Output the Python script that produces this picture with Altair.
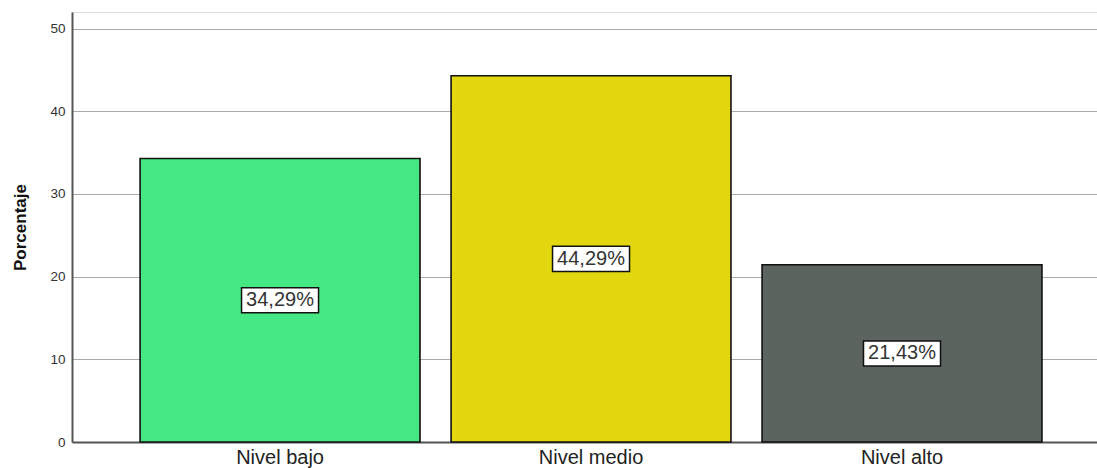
import altair as alt
import pandas as pd

categories = ["Nivel bajo", "Nivel medio", "Nivel alto"]
values = [34.29, 44.29, 21.43]
labels = ["34,29%", "44,29%", "21,43%"]
colors = ["#45E882", "#E3D80F", "#5B645E"]

df = pd.DataFrame({"cat": categories, "val": values, "lab": labels})
df["mid"] = df["val"] / 2

xscale = alt.Scale(domain=categories, paddingInner=0.1, paddingOuter=0.198, align=0.553)
yscale = alt.Scale(domain=[0, 52], nice=False)

base = alt.Chart(df)

bars = base.mark_bar(stroke="#111111", strokeWidth=1.6).encode(
    x=alt.X("cat:N", scale=xscale, sort=categories,
            axis=alt.Axis(title=None, labelAngle=0, labelFont="Liberation Sans", labelFontSize=20,
                          labelColor="#222222", labelPadding=5, ticks=False, domainColor="#555555",
                          domainWidth=2, grid=False)),
    y=alt.Y("val:Q", scale=yscale,
            axis=alt.Axis(title="Porcentaje", values=[0, 10, 20, 30, 40, 50], ticks=False,
                          labelFont="Liberation Sans", labelFontSize=13.5, labelColor="#333333",
                          labelPadding=7, domainColor="#555555", domainWidth=2,
                          gridColor="#AAAAAA", gridWidth=1.2,
                          titleFont="Liberation Sans", titleFontSize=17, titleFontWeight="bold",
                          titleColor="#111111", titlePadding=20)),
    color=alt.Color("cat:N", scale=alt.Scale(domain=categories, range=colors), legend=None),
)

boxes = base.mark_point(shape="M-1,-0.325H1V0.325H-1Z", size=5929, filled=True, fill="white",
                        stroke="#111111", strokeWidth=1.5, opacity=1).encode(
    x=alt.X("cat:N", scale=xscale, sort=categories),
    y=alt.Y("mid:Q", scale=yscale),
)

texts = base.mark_text(font="Liberation Sans", fontSize=20, color="#333333", baseline="middle",
                       align="center").encode(
    x=alt.X("cat:N", scale=xscale, sort=categories),
    y=alt.Y("mid:Q", scale=yscale),
    text="lab:N",
)

chart = (bars + boxes + texts).properties(
    width=1025, height=430,
    padding={"left": 72, "top": 12, "right": 0, "bottom": 26},
    autosize=alt.AutoSizeParams(type="none"),
).configure_view(stroke=None).configure(background="white")

chart.save("out.html", embed_options={"renderer": "svg", "actions": False})
